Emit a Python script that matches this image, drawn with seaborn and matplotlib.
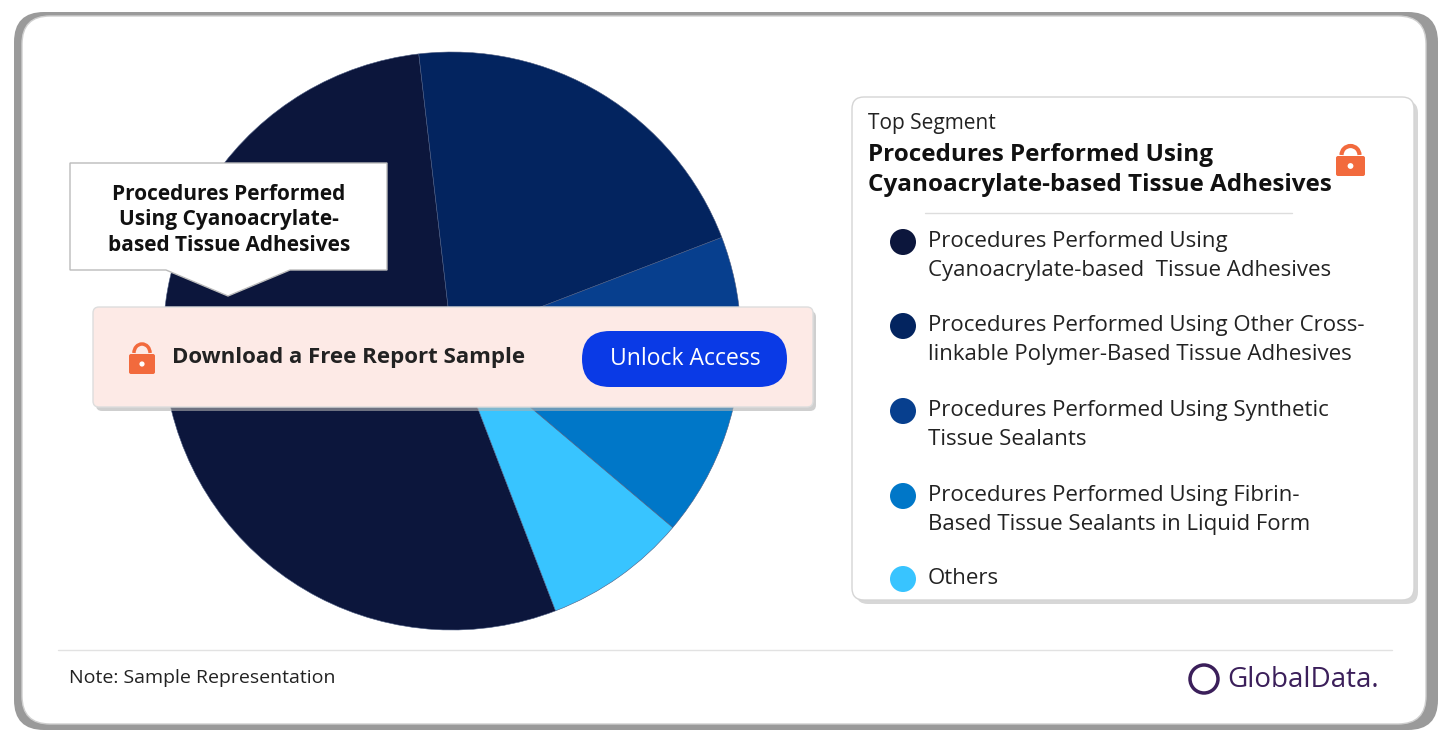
import matplotlib
matplotlib.use("Agg")
import matplotlib.pyplot as plt
import seaborn as sns
from matplotlib.patches import FancyBboxPatch, Polygon, Circle, Arc

sns.set_theme(style="white")
plt.rcParams['font.family'] = ['Open Sans', 'DejaVu Sans']

segments = [
    "Procedures Performed Using\nCyanoacrylate-based  Tissue Adhesives",
    "Procedures Performed Using Other Cross-\nlinkable Polymer-Based Tissue Adhesives",
    "Procedures Performed Using Synthetic\nTissue Sealants",
    "Procedures Performed Using Fibrin-\nBased Tissue Sealants in Liquid Form",
    "Others",
]
shares = [54, 21, 5, 12, 8]
colors = ["#0c163c", "#03245f", "#073f8e", "#0077c8", "#38c4ff"]

W, H = 1448, 741
fig = plt.figure(figsize=(W / 100, H / 100), dpi=100)

# background / frame layer
bg = fig.add_axes([0, 0, 1, 1], zorder=0)
bg.set_xlim(0, W); bg.set_ylim(H, 0); bg.axis("off")
bg.add_patch(FancyBboxPatch((14, 12), 1424, 718, boxstyle="round,pad=0,rounding_size=30",
                            fc="#9a9a9a", ec="none"))
bg.add_patch(FancyBboxPatch((22, 16), 1404, 708, boxstyle="round,pad=0,rounding_size=28",
                            fc="white", ec="#cfcfcf", lw=1))

# pie
cx, cy, r = 452, 341, 289
pax = fig.add_axes([(cx - r) / W, (H - cy - r) / H, 2 * r / W, 2 * r / H], zorder=1)
pax.pie(shares, colors=colors, startangle=-69, counterclock=False,
        wedgeprops=dict(linewidth=0.4, edgecolor="#4a5a80"))
pax.set_xlim(-1, 1); pax.set_ylim(-1, 1); pax.set_aspect("auto")

# overlay layer
ov = fig.add_axes([0, 0, 1, 1], zorder=2)
ov.set_xlim(0, W); ov.set_ylim(H, 0); ov.axis("off"); ov.patch.set_alpha(0)


def lock(x, y, w, h, lw):
    # y axis is inverted, so the upper half of the arc is 180..360
    ov.add_patch(Arc((x + w / 2, y), w * 0.62, h * 0.9, theta1=180, theta2=360,
                     color="#f26a3d", lw=lw))
    ov.add_patch(FancyBboxPatch((x, y + 1), w, h, boxstyle="round,pad=0,rounding_size=2",
                                fc="#f26a3d", ec="none"))
    ov.add_patch(Circle((x + w / 2, y + 1 + h * 0.5), w * 0.1, fc="white", ec="none"))


# callout
ov.add_patch(Polygon([(70, 163), (387, 163), (387, 270), (290, 270), (228, 296),
                      (166, 270), (70, 270)], closed=True, fc="white", ec="#bbbbbb", lw=1))
ov.text(229, 220, "Procedures Performed\nUsing Cyanoacrylate-\nbased Tissue Adhesives",
        ha="center", va="center", fontsize=15, fontweight="bold", color="#111111",
        linespacing=1.3)

# banner
ov.add_patch(FancyBboxPatch((96, 311), 720, 100, boxstyle="round,pad=0,rounding_size=6",
                            fc="#b0b0b0", ec="none", alpha=0.6))
ov.add_patch(FancyBboxPatch((93, 307), 720, 100, boxstyle="round,pad=0,rounding_size=6",
                            fc="#fdeae6", ec="#dddddd", lw=1))
lock(129, 353, 26, 20, 2.5)
ov.text(172, 358, "Download a Free Report Sample", ha="left", va="center",
        fontsize=16, fontweight="bold", color="#222222")
ov.add_patch(FancyBboxPatch((582, 331), 205, 56, boxstyle="round,pad=0,rounding_size=28",
                            fc="#0a3ae6", ec="none"))
ov.text(685, 359, "Unlock Access", ha="center", va="center", fontsize=16.5, color="white")

# legend box
ov.add_patch(FancyBboxPatch((856, 101), 562, 503, boxstyle="round,pad=0,rounding_size=12",
                            fc="#bdbdbd", ec="none", alpha=0.6))
ov.add_patch(FancyBboxPatch((852, 97), 562, 503, boxstyle="round,pad=0,rounding_size=12",
                            fc="white", ec="#d5d5d5", lw=1))
ov.text(868, 124, "Top Segment", ha="left", va="center", fontsize=15, color="#222222")
ov.text(868, 170, "Procedures Performed Using\nCyanoacrylate-based Tissue Adhesives",
        ha="left", va="center", fontsize=17.5, fontweight="bold", color="#111111",
        linespacing=1.3)
lock(1336, 155, 29, 20, 3)
ov.plot([925, 1292], [213, 213], color="#dddddd", lw=1)
ys = [256, 340, 425, 510, 579]
for y, lab, c in zip(ys, segments, colors):
    ov.add_patch(Circle((903, y - 14 if "\n" in lab else y), 13, fc=c, ec="none"))
    ov.text(928, y, lab, ha="left", va="center", fontsize=16, color="#222222",
            linespacing=1.45)

# footer
ov.plot([58, 1392], [650, 650], color="#e2e2e2", lw=1)
ov.text(69, 678, "Note: Sample Representation", ha="left", va="center", fontsize=14,
        color="#222222")
ov.add_patch(Circle((1204, 679), 14, fc="none", ec="#3b1f5a", lw=2.5))
ov.text(1227, 680, "GlobalData.", ha="left", va="center", fontsize=20, color="#3b1f5a")

fig.savefig("out.png", dpi=100)
